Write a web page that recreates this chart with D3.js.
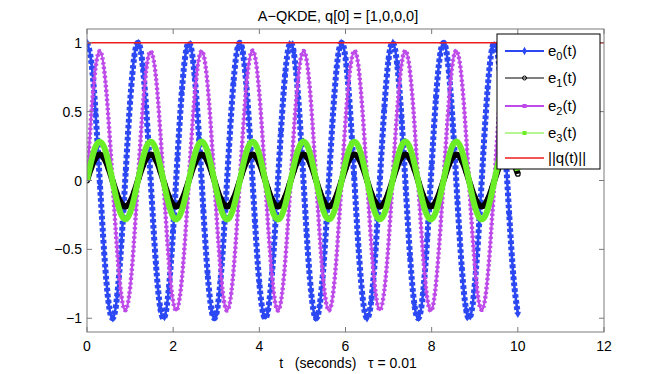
<!DOCTYPE html>
<html><head><meta charset="utf-8">
<script src="https://cdn.jsdelivr.net/npm/d3@7"></script>
<style>body{margin:0;background:#fff}svg{display:block}</style>
</head><body>
<svg id="c" width="668" height="374"></svg>
<script>
// sampled values (read every 0.1 s)
const tau = 0.1;
const e0 = [1,0.862,0.486,-0.024,-0.527,-0.885,-0.999,-0.837,-0.444,0.071,0.567,0.906,0.996,0.810,0.401,-0.118,-0.605,-0.925,-0.990,-0.781,-0.357,0.165,0.642,0.942,0.982,0.751,0.313,-0.212,-0.678,-0.957,-0.972,-0.719,-0.267,0.258,0.712,0.970,0.960,0.685,0.221,-0.304,-0.745,-0.980,-0.945,-0.650,-0.175,0.348,0.775,0.988,0.929,0.613,0.128,-0.392,-0.804,-0.995,-0.910,-0.575,-0.081,0.436,0.832,0.998,0.890,0.535,0.033,-0.478,-0.857,-1.000,-0.867,-0.495,0.014,0.519,0.881,0.999,0.842,0.453,-0.062,-0.559,-0.902,-0.996,-0.816,-0.410,0.109,0.598,0.922,0.991,0.787,0.366,-0.156,-0.635,-0.939,-0.984,-0.757,-0.322,0.203,0.671,0.954,0.974,0.725,0.276,-0.249,-0.705,-0.967];
const e1 = [0,0.095,0.164,0.188,0.160,0.087,-0.009,-0.103,-0.169,-0.188,-0.155,-0.080,0.018,0.110,0.172,0.187,0.150,0.071,-0.027,-0.117,-0.176,-0.185,-0.144,-0.063,0.036,0.124,0.179,0.184,0.138,0.055,-0.044,-0.131,-0.181,-0.182,-0.132,-0.046,0.053,0.137,0.183,0.179,0.126,0.037,-0.061,-0.143,-0.185,-0.176,-0.119,-0.028,0.070,0.149,0.187,0.173,0.112,0.020,-0.078,-0.154,-0.188,-0.169,-0.104,-0.011,0.086,0.159,0.188,0.165,0.097,0.002,-0.094,-0.163,-0.188,-0.161,-0.089,0.007,0.101,0.168,0.188,0.156,0.081,-0.016,-0.109,-0.172,-0.187,-0.151,-0.073,0.025,0.116,0.175,0.186,0.145,0.065,-0.034,-0.123,-0.178,-0.184,-0.139,-0.056,0.043,0.129,0.181,0.182,0.133,0.048];
const e2 = [0,0.48,0.82,0.94,0.80,0.44,-0.04,-0.51,-0.84,-0.94,-0.78,-0.40,0.09,0.55,0.86,0.93,0.75,0.36,-0.13,-0.59,-0.88,-0.93,-0.72,-0.32,0.18,0.62,0.89,0.92,0.69,0.27,-0.22,-0.65,-0.91,-0.91,-0.66,-0.23,0.26,0.69,0.92,0.90,0.63,0.19,-0.31,-0.71,-0.93,-0.88,-0.59,-0.14,0.35,0.74,0.93,0.87,0.56,0.10,-0.39,-0.77,-0.94,-0.85,-0.52,-0.05,0.43,0.79,0.94,0.83,0.48,0.01,-0.47,-0.82,-0.94,-0.80,-0.45,0.04,0.51,0.84,0.94,0.78,0.41,-0.08,-0.54,-0.86,-0.94,-0.75,-0.36,0.12,0.58,0.88,0.93,0.73,0.32,-0.17,-0.61,-0.89,-0.92,-0.70,-0.28,0.21,0.65,0.90,0.91,0.67,0.24];
const e3 = [0,0.143,0.247,0.282,0.240,0.131,-0.013,-0.154,-0.253,-0.281,-0.233,-0.119,0.027,0.165,0.258,0.280,0.225,0.107,-0.040,-0.176,-0.264,-0.278,-0.216,-0.095,0.053,0.186,0.268,0.276,0.207,0.082,-0.066,-0.196,-0.272,-0.273,-0.198,-0.069,0.079,0.206,0.275,0.269,0.189,0.056,-0.092,-0.214,-0.278,-0.264,-0.178,-0.043,0.105,0.223,0.280,0.260,0.168,0.029,-0.117,-0.231,-0.281,-0.254,-0.157,-0.016,0.129,0.238,0.282,0.248,0.145,0.003,-0.141,-0.245,-0.282,-0.241,-0.134,0.011,0.152,0.252,0.282,0.234,0.122,-0.024,-0.163,-0.257,-0.281,-0.226,-0.109,0.037,0.174,0.263,0.279,0.218,0.097,-0.051,-0.184,-0.267,-0.276,-0.209,-0.084,0.064,0.194,0.271,0.273,0.200,0.072];
const normT = [0, 12];
const normV = [1, 1];
const xTicks = [0, 2, 4, 6, 8, 10, 12];
const yTicks = [-1, -0.5, 0, 0.5, 1];
const yTickLabels = ["\u22121", "\u22120.5", "0", "0.5", "1"];
const legendSubs = ["0", "1", "2", "3"];
const titleText = "A\u2212QKDE, q[0] = [1,0,0,0]";

const svg = d3.select("#c");
const L = 87, R = 604, T = 29, B = 332;
const x = d3.scaleLinear().domain([0, 12]).range([L, R]);
const y = d3.scaleLinear().domain([-1.1, 1.1]).range([B, T]);
const font = "'Liberation Sans', Arial, Helvetica, sans-serif";
const axisCol = "#7a7a7a";

const tArr = e0.map((_, i) => i * tau);
const line = d3.line().x(d => x(d[0])).y(d => y(d[1])).curve(d3.curveNatural);
const pts = arr => arr.map((v, i) => [tArr[i], v]);

const plot = svg.append("g");
svg.append("clipPath").attr("id", "cp").append("rect")
  .attr("x", L).attr("y", T - 4).attr("width", R - L).attr("height", B - T + 8);
plot.attr("clip-path", "url(#cp)");

const colors = {e0: "#2b48f3", e1: "#000000", e2: "#bd4ae9", e3: "#6cee26", n: "#ee1c1c"};

// e0 blue with diamond beads
plot.append("path").attr("d", line(pts(e0))).attr("fill", "none")
  .attr("stroke", colors.e0).attr("stroke-width", 2.6);
plot.append("path").attr("d", line(pts(e0))).attr("fill", "none")
  .attr("stroke", colors.e0).attr("stroke-width", 6).attr("stroke-dasharray", "3.6 2.4");
plot.selectAll(".d0").data(pts(e0)).join("path")
  .attr("d", d3.symbol(d3.symbolDiamond, 22)())
  .attr("transform", d => `translate(${x(d[0])},${y(d[1])})`).attr("fill", colors.e0);

// e1 black (dense circles -> thick band)
plot.append("path").attr("d", line(pts(e1))).attr("fill", "none")
  .attr("stroke", colors.e1).attr("stroke-width", 6);
plot.selectAll(".d1").data(pts(e1)).join("circle")
  .attr("cx", d => x(d[0])).attr("cy", d => y(d[1])).attr("r", 2.3)
  .attr("fill", "none").attr("stroke", colors.e1).attr("stroke-width", 1.2);

// e2 magenta with small plus beads
plot.append("path").attr("d", line(pts(e2))).attr("fill", "none")
  .attr("stroke", colors.e2).attr("stroke-width", 2.2);
plot.append("path").attr("d", line(pts(e2))).attr("fill", "none")
  .attr("stroke", colors.e2).attr("stroke-width", 4.4).attr("stroke-dasharray", "2.2 2.4");

// e3 green
plot.append("path").attr("d", line(pts(e3))).attr("fill", "none")
  .attr("stroke", colors.e3).attr("stroke-width", 6);

// norm red
plot.append("path").attr("d", d3.line().x(d => x(d[0])).y(d => y(d[1]))(normT.map((t, i) => [t, normV[i]])))
  .attr("fill", "none").attr("stroke", colors.n).attr("stroke-width", 1.5);

// axes box
const ax = svg.append("g");
ax.append("rect").attr("x", L).attr("y", T).attr("width", R - L).attr("height", B - T)
  .attr("fill", "none").attr("stroke", axisCol).attr("stroke-width", 1);
const tl = 5;
xTicks.forEach(t => {
  ax.append("line").attr("x1", x(t)).attr("x2", x(t)).attr("y1", B).attr("y2", B - tl).attr("stroke", axisCol);
  ax.append("line").attr("x1", x(t)).attr("x2", x(t)).attr("y1", T).attr("y2", T + tl).attr("stroke", axisCol);
  ax.append("text").attr("x", x(t)).attr("y", 351).attr("text-anchor", "middle")
    .attr("font-family", font).attr("font-size", 14).text(t);
});
yTicks.forEach((v, i) => {
  ax.append("line").attr("x1", L).attr("x2", L + tl).attr("y1", y(v)).attr("y2", y(v)).attr("stroke", axisCol);
  ax.append("line").attr("x1", R).attr("x2", R - tl).attr("y1", y(v)).attr("y2", y(v)).attr("stroke", axisCol);
  ax.append("text").attr("x", 82).attr("y", y(v) + 5).attr("text-anchor", "end")
    .attr("font-family", font).attr("font-size", 14).text(yTickLabels[i]);
});

svg.append("text").attr("x", 338).attr("y", 21).attr("text-anchor", "middle")
  .attr("font-family", font).attr("font-size", 14.5).text(titleText);
svg.append("text").attr("x", 348).attr("y", 368).attr("text-anchor", "middle")
  .attr("font-family", font).attr("font-size", 14).attr("xml:space", "preserve")
  .text("t   (seconds)   \u03c4 = 0.01");

// legend
const lg = svg.append("g");
lg.append("rect").attr("x", 497).attr("y", 34).attr("width", 103).attr("height", 135)
  .attr("fill", "#fff").attr("stroke", "#000").attr("stroke-width", 1);
const rowY = [51, 78, 106, 133, 158];
const lx1 = 505, lx2 = 544, lm = 524.5;
const legItems = [
  {c: colors.e0, w: 2, m: "diamond"},
  {c: colors.e1, w: 1, m: "circle"},
  {c: colors.e2, w: 2, m: "square"},
  {c: colors.e3, w: 1.2, m: "dot"},
  {c: colors.n, w: 1.4, m: null}
];
legItems.forEach((it, i) => {
  const yy = rowY[i];
  lg.append("line").attr("x1", lx1).attr("x2", lx2).attr("y1", yy).attr("y2", yy)
    .attr("stroke", it.c).attr("stroke-width", it.w);
  if (it.m === "diamond") lg.append("path").attr("d", d3.symbol(d3.symbolDiamond, 20)()).attr("transform", `translate(${lm},${yy})`).attr("fill", it.c);
  if (it.m === "circle") lg.append("circle").attr("cx", lm).attr("cy", yy).attr("r", 2).attr("fill", "none").attr("stroke", it.c);
  if (it.m === "square") lg.append("rect").attr("x", lm - 2).attr("y", yy - 2).attr("width", 4).attr("height", 4).attr("fill", it.c);
  if (it.m === "dot") lg.append("rect").attr("x", lm - 2).attr("y", yy - 2).attr("width", 4).attr("height", 4).attr("fill", it.c);
  const tx = lg.append("text").attr("x", 548).attr("y", yy + 5).attr("font-family", font).attr("font-size", 15);
  if (i < 4) {
    tx.append("tspan").text("e");
    tx.append("tspan").attr("dy", 4).attr("font-size", 11).text(legendSubs[i]);
    tx.append("tspan").attr("dy", -4).text("(t)");
  } else {
    tx.text("||q(t)||");
  }
});
</script>
</body></html>
